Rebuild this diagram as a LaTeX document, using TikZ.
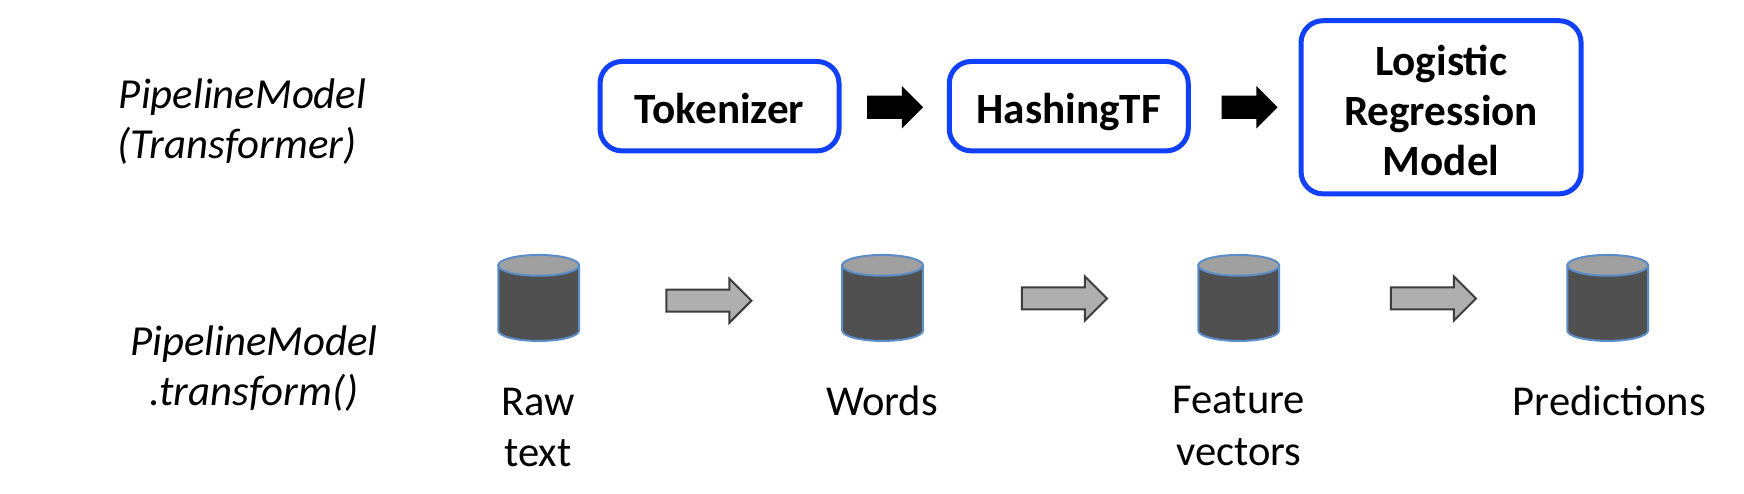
\documentclass[tikz,border=0pt]{standalone}
\usepackage{fontspec}
\setmainfont{Carlito}
\usetikzlibrary{shapes.arrows,positioning}
\definecolor{boxblue}{RGB}{16,64,250}
\definecolor{drumblue}{RGB}{91,141,200}
\definecolor{drumbody}{RGB}{80,80,80}
\definecolor{drumtop}{RGB}{160,160,160}
\definecolor{flowgrey}{RGB}{175,175,175}
\definecolor{flowedge}{RGB}{60,60,60}
\tikzset{
    stagebox/.style={draw=boxblue,line width=2.5pt,rounded corners=11pt,fill=white,align=center,font=\fontsize{21.6}{25}\selectfont\bfseries,inner sep=0pt},
    drum/.pic={
        \path[draw=drumblue,line width=1pt,fill=drumbody] (-20.2pt,16.3pt) -- (-20.2pt,-16.3pt) arc[start angle=180,end angle=360,x radius=20.2pt,y radius=5.2pt] -- (20.2pt,16.3pt) -- cycle;
        \path[draw=drumblue,line width=1pt,fill=drumtop] (0pt,16.3pt) ellipse[x radius=20.2pt,y radius=5.2pt];
    },
    fatarrow/.style={single arrow,fill=black,inner sep=5.6pt,minimum height=28pt,single arrow head extend=4.75pt,single arrow tip angle=90},
    flowarrow/.style={single arrow,draw=flowedge,line width=1pt,fill=flowgrey,inner sep=5pt,minimum height=42.5pt,single arrow head extend=5.5pt,single arrow tip angle=90},
    sidelabel/.style={align=center,font=\fontsize{21.4}{25}\selectfont\itshape,inner sep=0pt},
    datalabel/.style={align=center,font=\fontsize{21.3}{25.7}\selectfont,inner sep=0pt}
}
\begin{document}
\begin{tikzpicture}[x=0.5565pt,y=-0.5565pt]
    \useasboundingbox (0,0) rectangle (1567,443);

    % top row
    \node[sidelabel] (lblModel) at (218,109.5) {PipelineModel\\\hspace*{-5.6pt}(Transformer)};
    \node[stagebox,minimum width=119.5pt,minimum height=44.7pt,text height=17pt,text depth=0pt] (mToken) at (646.5,95.4) {Tokenizer};
    \node[stagebox,minimum width=119.5pt,minimum height=44.7pt,text height=17pt,text depth=0pt] (mHash) at (960.3,95.4) {HashingTF};
    \node[stagebox,minimum width=140pt,minimum height=86.6pt] (mLogit) at (1294.8,96.4) {\rule{0pt}{18pt}Logistic\\Regression\\Model};
    \node[fatarrow] (arrA) at (799,96.4) {};
    \node[fatarrow] (arrB) at (1117.5,96.4) {};

    % bottom row
    \node[sidelabel] (lblCall) at (228,331.5) {PipelineModel\\.transform()};
    \pic (dRaw) at (484,267.7) {drum};
    \pic (dWords) at (793,267.7) {drum};
    \pic (dFeat) at (1113,267.7) {drum};
    \pic (dPred) at (1444.5,267.7) {drum};
    \node[flowarrow] (arrC) at (632,270.2) {};
    \node[flowarrow] (arrD) at (951.5,268.2) {};
    \node[flowarrow] (arrE) at (1283,268.2) {};

    % data names
    \node[datalabel,anchor=north] (tRaw) at (483.5,348) {Raw\\text};
    \node[datalabel,anchor=north] (tWords) at (792.5,346) {Words};
    \node[datalabel,anchor=north] (tFeat) at (1113,347) {Feature\\vectors};
    \node[datalabel,anchor=north] (tPred) at (1446,346) {Predictions};
\end{tikzpicture}
\end{document}
